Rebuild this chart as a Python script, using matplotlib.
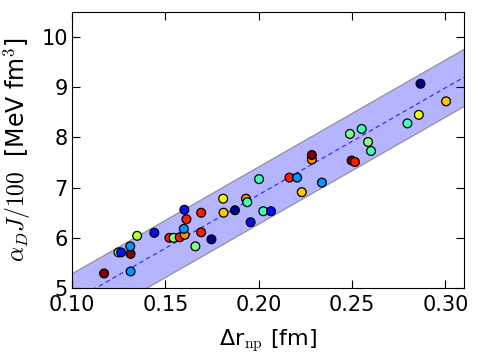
import matplotlib
matplotlib.use("Agg")
import matplotlib.pyplot as plt
import numpy as np

plt.rcParams['mathtext.fontset'] = 'cm'
plt.rcParams['font.family'] = ['DejaVu Sans']

# data
drnp = [0.1172, 0.1314, 0.1249, 0.1263, 0.1314, 0.1312, 0.1349, 0.1441,
        0.1522, 0.1545, 0.1577, 0.1604, 0.1599, 0.1613, 0.1602, 0.1692,
        0.1692, 0.1747, 0.1661, 0.1810, 0.1812, 0.1873, 0.1932, 0.1939,
        0.1957, 0.2025, 0.2066, 0.2002, 0.2165, 0.2206, 0.2339, 0.2231,
        0.2285, 0.2285, 0.2867, 0.3004, 0.2858, 0.2797, 0.2489, 0.2552,
        0.2586, 0.2602, 0.2498, 0.2516]
alphaJ = [5.29, 5.33, 5.71, 5.71, 5.68, 5.83, 6.04, 6.10,
          6.00, 6.00, 6.01, 6.06, 6.18, 6.37, 6.56, 6.50,
          6.11, 5.97, 5.83, 6.78, 6.50, 6.55, 6.78, 6.71,
          6.31, 6.53, 6.53, 7.17, 7.20, 7.20, 7.10, 6.91,
          7.56, 7.65, 9.07, 8.72, 8.45, 8.28, 8.07, 8.17,
          7.91, 7.73, 7.54, 7.51]
kind = ['darkred', 'sky', 'lgreen', 'blue', 'darkred', 'sky', 'ygreen', 'blue',
        'red', 'lgreen', 'red', 'orange', 'sky', 'red', 'blue', 'red',
        'red', 'navy', 'lgreen', 'yellow', 'gold', 'navy', 'orange', 'aqua',
        'blue', 'aqua', 'blue', 'aqua', 'red', 'sky', 'sky', 'gold',
        'orange', 'darkred', 'navy', 'gold', 'yellow', 'aqua', 'lgreen', 'aqua',
        'lgreen', 'aqua', 'darkred', 'red']
palette = {'darkred': '#800000', 'red': '#ff1a00', 'orange': '#ff8c00',
           'gold': '#ffc800', 'yellow': '#f0ff00', 'ygreen': '#b4ff3c',
           'lgreen': '#80ff80', 'aqua': '#40ffb8', 'sky': '#0096ff',
           'blue': '#0010ff', 'navy': '#000090'}

fit_intercept = 2.597
fit_slope = 21.3
band_half = 0.57

fig = plt.figure(figsize=(4.91, 3.61), dpi=100)
ax = fig.add_axes([0.1466, 0.2022, 0.7984, 0.7646])

xx = np.array([0.10, 0.31])
yy = fit_intercept + fit_slope * xx
ax.fill_between(xx, yy - band_half, yy + band_half, facecolor='#b4b4ff',
                edgecolor='#8c8c8c', linewidth=0.8, zorder=1)
ax.plot(xx, yy, '--', color='#2020ff', linewidth=0.8, dashes=(4, 3), zorder=2)

ax.scatter(drnp, alphaJ, s=40, c=[palette[k] for k in kind],
           edgecolors='black', linewidths=0.9, zorder=3)

ax.set_xlim(0.10, 0.31)
ax.set_ylim(5, 10.5)
ax.set_xticks([0.10, 0.15, 0.20, 0.25, 0.30])
ax.set_xticklabels(['0.10', '0.15', '0.20', '0.25', '0.30'])
ax.set_yticks([5, 6, 7, 8, 9, 10])
ax.tick_params(direction='in', top=True, right=True, labelsize=15, length=6)
ax.tick_params(axis='x', pad=5)
ax.tick_params(axis='y', pad=3)
ax.set_xlabel(r'Δr$_{\rm np}$ [fm]', fontsize=16, labelpad=9)
ax.set_ylabel(r'$\alpha_D J/100$  [MeV fm$^3$]', fontsize=17, labelpad=6)

fig.savefig('out.png', dpi=100)
